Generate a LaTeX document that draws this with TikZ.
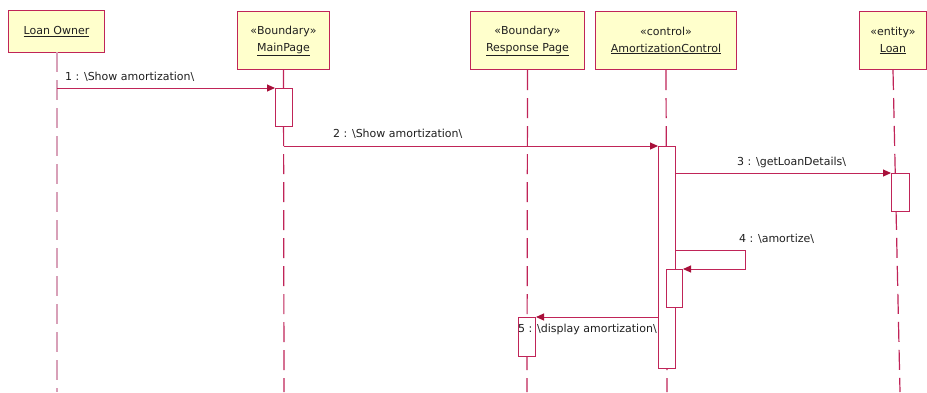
\documentclass[tikz,border=0pt]{standalone}
\usepackage{fontspec}
\setmainfont{DejaVu Sans}
\usetikzlibrary{arrows.meta}
\definecolor{ln}{HTML}{C02458}
\definecolor{tip}{HTML}{A8103A}
\definecolor{lnlight}{HTML}{D8A0B8}
\definecolor{boxfill}{HTML}{FFFFCC}
\definecolor{txt}{HTML}{202020}
\begin{document}
\begin{tikzpicture}[x=1pt,y=-1pt,
  obj/.style={draw=ln, line width=1pt, fill=boxfill, inner sep=0pt, anchor=north west,
    align=center, text=txt, font=\fontsize{11}{17}\selectfont},
  act/.style={draw=ln, fill=white, line width=1pt, inner sep=0pt, anchor=north west},
  life/.style={draw=ln, line width=1.2pt, dash pattern=on 20pt off 8pt},
  msg/.style={draw=ln, line width=1pt, -{Triangle[length=8pt,width=7pt,color=tip]}},
  lbl/.style={font=\fontsize{11}{13}\selectfont, text=txt, anchor=base west, inner sep=0pt}]
\useasboundingbox[fill=white] (0,0) rectangle (927,392);

% objects
\node[obj, minimum width=96, minimum height=42] (lo) at (8,10) {\underline{Loan Owner}};
\node[obj, minimum width=92, minimum height=58] (mp) at (237,11) {«Boundary»\\\underline{MainPage}};
\node[obj, minimum width=114, minimum height=58] (rp) at (470,11) {«Boundary»\\\underline{Response Page}};
\node[obj, minimum width=141, minimum height=58] (ac) at (595,11) {«control»\\\underline{AmortizationControl}};
\node[obj, minimum width=67, minimum height=58] (ln) at (859,11) {«entity»\\\underline{Loan}};

% lifeline ends
\coordinate (loE) at (57,392);
\coordinate (mpE) at (284,392);
\coordinate (rpE) at (527,392);
\coordinate (acE) at (667,392);
\coordinate (lnE) at (900,392);

\draw[life, draw=lnlight] (57,52) -- (loE);
\draw[life] (mp.south) -- (mpE);
\draw[life] (rp.south) -- (rpE);
\draw[life] (ac.south) -- (acE);
\draw[life] (ln.south) -- (lnE);

% activations
\node[act, minimum width=17, minimum height=38] (a1) at (275,88) {};
\node[act, minimum width=17, minimum height=222] (a2) at (658,146) {};
\node[act, minimum width=18, minimum height=38] (a3) at (891,173) {};
\node[act, minimum width=16, minimum height=38] (a4) at (666,269) {};
\node[act, minimum width=17, minimum height=39] (a5) at (518,317) {};

% messages
\coordinate (m1s) at (57,88);
\draw[msg] (m1s) -- (a1.north west);
\node[lbl] (l1) at (65,80) {1 : \textbackslash Show amortization\textbackslash};

\coordinate (m2s) at (284,146);
\draw[msg] (m2s) -- (a2.north west);
\node[lbl] (l2) at (333,137) {2 : \textbackslash Show amortization\textbackslash};

\coordinate (m3s) at (675,173);
\draw[msg] (m3s) -- (a3.north west);
\node[lbl] (l3) at (737,165) {3 : \textbackslash getLoanDetails\textbackslash};

\coordinate (m4s) at (675,250);
\coordinate (m4c) at (745,250);
\draw[msg] (m4s) -- (m4c) |- (a4.north east);
\node[lbl] (l4) at (739,242) {4 : \textbackslash amortize\textbackslash};

\coordinate (m5s) at (658,317);
\draw[msg] (m5s) -- (a5.north east);
\node[lbl] (l5) at (518,332) {5 : \textbackslash display amortization\textbackslash};
\end{tikzpicture}
\end{document}
